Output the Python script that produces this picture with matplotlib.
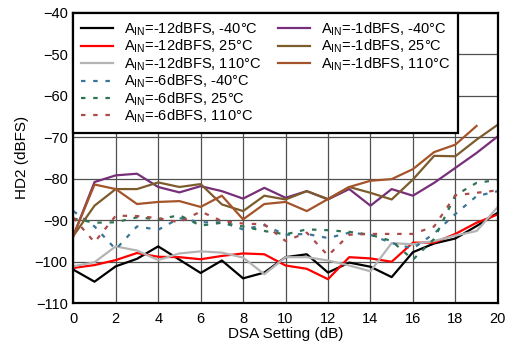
import numpy as np
import matplotlib
matplotlib.use("Agg")
import matplotlib.pyplot as plt
from matplotlib.lines import Line2D

plt.rcParams["font.family"] = ["Liberation Sans", "DejaVu Sans"]
plt.rcParams["mathtext.default"] = "regular"

dsa = np.arange(0, 21)

# AIN = -12 dBFS
hd2_m12_n40 = [-101.9, -104.8, -101.1, -99.3, -96.3, -99.5, -102.7, -99.7, -104.0, -102.6,
               -98.9, -98.2, -102.6, -100.2, -101.2, -103.7, -97.7, -95.6, -94.4, -91.4, -88.2]
hd2_m12_25 = [-101.5, -100.8, -99.6, -97.9, -98.8, -98.9, -99.4, -98.6, -98.0, -98.2,
              -100.9, -101.7, -104.2, -98.9, -99.2, -100.0, -95.4, -95.4, -93.3, -90.6, -88.6]
hd2_m12_110 = [-101.1, -100.1, -96.3, -97.3, -99.6, -98.0, -97.5, -97.8, -99.0, -103.0,
               -98.9, -98.9, -99.7, -100.9, -102.3, -95.5, -95.8, -95.0, -93.7, -92.6, -86.8]

# AIN = -6 dBFS
hd2_m6_n40 = [-87.8, -91.5, -97.0, -91.5, -92.3, -89.5, -90.5, -90.5, -92.2, -91.2,
              -93.5, -93.3, -94.3, -93.0, -93.5, -95.5, -96.8, -93.2, -88.5, -84.2, -83.0]
hd2_m6_25 = [-89.6, -90.6, -90.5, -89.3, -89.8, -88.8, -91.3, -90.6, -91.5, -92.6,
             -93.4, -92.2, -92.4, -92.8, -93.5, -95.0, -99.5, -94.5, -84.0, -81.0, -80.3]
hd2_m6_110 = [-89.4, -95.3, -88.9, -89.0, -89.5, -90.5, -87.9, -90.2, -90.8, -91.0,
              -95.0, -93.0, -98.5, -93.5, -93.3, -93.3, -93.3, -91.5, -84.0, -83.4, -82.8]

# AIN = -1 dBFS
hd2_m1_n40 = [-93.8, -80.8, -79.2, -78.8, -82.0, -83.3, -81.8, -83.0, -84.8, -82.2,
              -84.6, -83.0, -85.0, -82.5, -86.5, -82.5, -84.1, -81.0, -77.4, -73.8, -69.8]
hd2_m1_25 = [-93.8, -86.5, -82.5, -82.5, -80.9, -82.0, -81.3, -86.2, -87.8, -84.1,
             -85.0, -83.0, -84.9, -82.0, -83.4, -85.0, -80.2, -74.5, -74.6, -70.6, -67.0]
hd2_m1_110 = [-93.8, -81.4, -82.5, -86.1, -85.6, -85.4, -86.8, -84.1, -89.8, -86.1,
              -85.6, -87.8, -84.9, -82.0, -80.5, -80.1, -77.7, -73.6, -71.8, -67.3, np.nan]

series = [
    (hd2_m12_n40, "A$_{IN}$=-12dBFS, -40\u00b0C", "#000000", "-"),
    (hd2_m12_25, "A$_{IN}$=-12dBFS, 25\u00b0C", "#ff0000", "-"),
    (hd2_m12_110, "A$_{IN}$=-12dBFS, 110\u00b0C", "#b4b4b4", "-"),
    (hd2_m6_n40, "A$_{IN}$=-6dBFS, -40\u00b0C", "#3a7496", (0, (2, 3.5))),
    (hd2_m6_25, "A$_{IN}$=-6dBFS, 25\u00b0C", "#2e7352", (0, (2, 3.5))),
    (hd2_m6_110, "A$_{IN}$=-6dBFS, 110\u00b0C", "#ad4a4a", (0, (2, 3.5))),
    (hd2_m1_n40, "A$_{IN}$=-1dBFS, -40\u00b0C", "#762f78", "-"),
    (hd2_m1_25, "A$_{IN}$=-1dBFS, 25\u00b0C", "#7c5c2c", "-"),
    (hd2_m1_110, "A$_{IN}$=-1dBFS, 110\u00b0C", "#a3542a", "-"),
]

fig = plt.figure(figsize=(5.09, 3.49), dpi=100)
ax = fig.add_axes([0.144, 0.131, 0.834, 0.833])

handles = []
labels = []
for vals, lab, col, ls in series:
    (ln,) = ax.plot(dsa, vals, color=col, linestyle=ls, linewidth=1.6)
    handles.append(ln)
    labels.append(lab)

# pad second legend column with blanks so it holds 3 entries
for _ in range(3):
    handles.append(Line2D([], [], linestyle="none"))
    labels.append("")

ax.set_xlim(0, 20)
ax.set_ylim(-110, -40)
ax.set_xticks(np.arange(0, 21, 2))
ax.set_yticks(np.arange(-110, -39, 10))
ax.grid(True, color="#505050", linewidth=0.9)
ax.set_axisbelow(True)
ax.tick_params(length=0, labelsize=10.5)
ax.tick_params(axis="x", pad=6)
ax.tick_params(axis="y", pad=4)
for sp in ax.spines.values():
    sp.set_linewidth(1.6)
    sp.set_color("black")

ax.set_xlabel("DSA Setting (dB)", fontsize=11, labelpad=1)
ax.set_ylabel("HD2 (dBFS)", fontsize=11, labelpad=4)

leg = ax.legend(handles, labels, ncol=2, loc="upper left", fontsize=10.5,
                frameon=True, fancybox=False, framealpha=1, edgecolor="black",
                borderaxespad=0, handlelength=2.2, handletextpad=0.7,
                columnspacing=1.2, labelspacing=0.0, borderpad=0.55)
leg.get_frame().set_linewidth(1.6)

fig.savefig("out.png", dpi=100)
